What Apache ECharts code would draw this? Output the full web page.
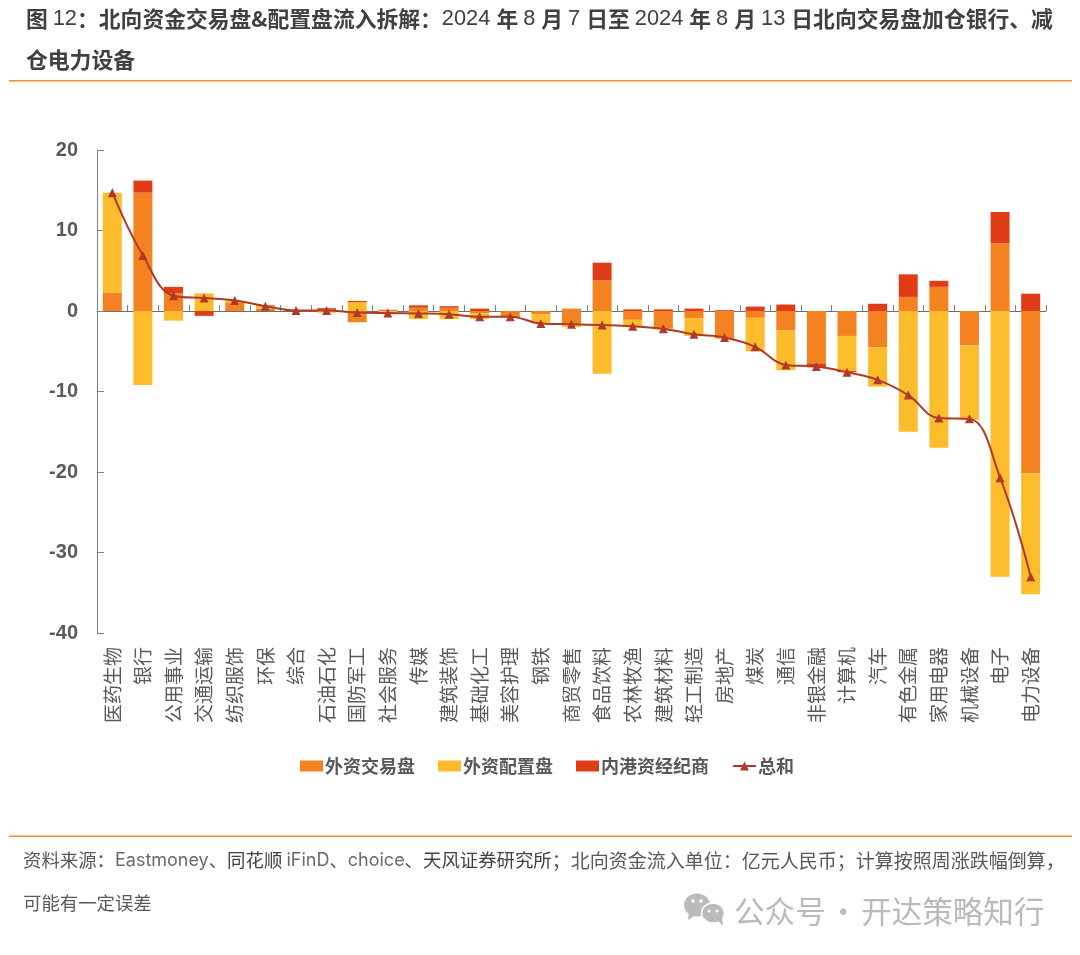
<!DOCTYPE html>
<html>
<head>
<meta charset="utf-8">
<style>
  html, body { margin: 0; padding: 0; background: #fff; }
  #chart { width: 1080px; height: 955px; }
</style>
<script src="https://cdn.jsdelivr.net/npm/echarts@6/dist/echarts.min.js"></script>
</head>
<body>
<div id="chart"></div>
<script>
var categories = ['医药生物', '银行', '公用事业', '交通运输', '纺织服饰', '环保', '综合', '石油石化', '国防军工', '社会服务', '传媒', '建筑装饰', '基础化工', '美容护理', '钢铁', '商贸零售', '食品饮料', '农林牧渔', '建筑材料', '轻工制造', '房地产', '煤炭', '通信', '非银金融', '计算机', '汽车', '有色金属', '家用电器', '机械设备', '电子', '电力设备'];
var tradeValues = [2.3, 14.7, 2.2, 0, 1.0, 0.3, 0.05, 0.15, -1.4, 0.05, 0.4, 0.4, -0.3, -0.75, -0.4, -1.8, 3.8, -1.1, -2.2, -0.9, -3.4, -0.85, -2.4, -6.5, -3.1, -4.5, 1.75, 3.0, -4.25, 8.4, -20.2];
var configValues = [12.4, -9.2, -1.2, 2.2, 0.3, 0.3, 0, -0.2, 1.1, -0.35, -1.0, -1.0, -0.7, 0, -1.15, -0.2, -7.8, -0.9, -0.1, -2.2, -0.1, -4.15, -4.95, 0, -4.35, -4.9, -15.0, -17.0, -9.25, -33.0, -15.0];
var brokerValues = [0, 1.5, 0.8, -0.6, 0, 0.1, 0, 0.2, 0.15, 0.1, 0.3, 0.2, 0.3, 0, 0, 0.3, 2.2, 0.2, 0.2, 0.3, 0.1, 0.55, 0.8, -0.5, -0.15, 0.9, 2.8, 0.75, 0, 3.9, 2.15];
var totalValues = [14.7, 6.9, 1.9, 1.6, 1.3, 0.6, 0.05, 0.05, -0.2, -0.25, -0.3, -0.4, -0.7, -0.7, -1.55, -1.65, -1.75, -1.9, -2.2, -2.9, -3.3, -4.45, -6.7, -6.9, -7.6, -8.55, -10.45, -13.3, -13.4, -20.7, -33.0];

var CJK = '"Noto Sans CJK SC", sans-serif';
var gray = '#595959';
var orange = '#F58220';
var yellow = '#FDBC2C';
var red = '#E03C17';
var lineRed = '#B03A26';
var markGray = '#bababa';

function barSeries(name, values, color) {
    return {
        name: name,
        type: 'bar',
        stack: 'flow',
        barWidth: 19,
        itemStyle: {color: color},
        data: values
    };
}

// in the picture the small positive part of this bar is drawn orange, not red
var brokerData = brokerValues.map(function (v, i) {
    return categories[i] === '商贸零售' ? {value: v, itemStyle: {color: orange}} : v;
});

var option = {
    animation: false,
    backgroundColor: '#fff',
    title: [
        {
            left: 21, top: 3,
            text: '{b|图 }{r|12}{b|：北向资金交易盘&配置盘流入拆解：}{r|2024 }{b|年 }{r|8 }{b|月 }{r|7 }{b|日至 }{r|2024 }{b|年 }{r|8 }{b|月 }{r|13 }{b|日北向交易盘加仓银行、减}',
            textStyle: {
                rich: {
                    b: {fontFamily: CJK, fontWeight: 'bold', fontSize: 21.8, color: '#404040'},
                    r: {fontFamily: '"Liberation Sans", sans-serif', fontWeight: 'normal', fontSize: 21.8, color: '#404040'}
                }
            }
        },
        {
            left: 21, top: 44,
            text: '仓电力设备',
            textStyle: {fontFamily: CJK, fontWeight: 'bold', fontSize: 21.8, color: '#404040'}
        },
        {
            left: 18, top: 846,
            text: '{c|资料来源：}{l|Eastmoney}{c|、}{d|同花顺 }{l|iFinD}{c|、}{l|choice}{c|、}{d|天风证券研究所}{e|；北向资金流入单位：亿元人民币；计算按照周涨跌幅倒算，}',
            textStyle: {
                rich: {
                    c: {fontFamily: CJK, fontWeight: 'normal', fontSize: 18.4, color: gray},
                    d: {fontFamily: CJK, fontWeight: 'normal', fontSize: 18.4, color: '#404040'},
                    e: {fontFamily: CJK, fontWeight: 'normal', fontSize: 19, color: gray},
                    l: {fontFamily: 'Inter, sans-serif', fontWeight: 'normal', fontSize: 18, color: '#6a6a6a'}
                }
            }
        },
        {
            left: 18, top: 889,
            text: '可能有一定误差',
            textStyle: {fontFamily: CJK, fontWeight: 'normal', fontSize: 18.4, color: gray}
        },
        {
            left: 729, top: 891,
            text: '公众号',
            textStyle: {fontFamily: CJK, fontWeight: 'normal', fontSize: 30.6, color: markGray}
        },
        {
            left: 823, top: 891,
            text: '·',
            textStyle: {fontFamily: CJK, fontWeight: 'normal', fontSize: 30.6, color: markGray}
        },
        {
            left: 856, top: 891,
            text: '开达策略知行',
            textStyle: {fontFamily: CJK, fontWeight: 'normal', fontSize: 30.6, color: markGray}
        }
    ],
    grid: {left: 97, right: 34, top: 150, bottom: 322},
    legend: {
        left: 295,
        top: 752,
        itemWidth: 23,
        itemHeight: 11,
        itemGap: 23,
        textStyle: {fontFamily: CJK, fontWeight: 'bold', fontSize: 18, color: gray, padding: [0, 0, 0, -3]},
        data: [
            {name: '外资交易盘', icon: 'rect'},
            {name: '外资配置盘', icon: 'rect'},
            {name: '内港资经纪商', icon: 'rect'},
            {name: '总和'}
        ]
    },
    xAxis: [
        {
            // labels stay under the plot
            type: 'category',
            data: categories,
            position: 'bottom',
            axisLine: {show: false, onZero: false},
            axisTick: {show: false},
            axisLabel: {
                interval: 0,
                rotate: 90,
                margin: 14,
                padding: [10, 0, 0, 0],
                fontFamily: CJK,
                fontSize: 19,
                color: gray
            }
        },
        {
            // zero line with the ticks
            type: 'category',
            data: categories,
            position: 'bottom',
            axisLine: {show: true, onZero: true, lineStyle: {color: '#6e6e6e', width: 1}},
            axisTick: {show: true, inside: true, length: 6, interval: 0, lineStyle: {color: '#808080'}},
            axisLabel: {show: false}
        }
    ],
    yAxis: {
        type: 'value',
        min: -40,
        max: 20,
        interval: 10,
        splitLine: {show: false},
        axisLine: {show: true, lineStyle: {color: '#808080', width: 1}},
        axisTick: {show: true, inside: true, length: 7, lineStyle: {color: '#808080'}},
        axisLabel: {
            margin: 19,
            fontFamily: '"Liberation Sans", sans-serif',
            fontWeight: 'bold',
            fontSize: 20,
            color: gray
        }
    },
    series: [
        barSeries('外资交易盘', tradeValues, orange),
        barSeries('外资配置盘', configValues, yellow),
        barSeries('内港资经纪商', brokerData, red),
        {
            name: '总和',
            type: 'line',
            smooth: 0.4,
            symbol: 'triangle',
            symbolSize: 9,
            lineStyle: {color: lineRed, width: 2},
            itemStyle: {color: lineRed},
            data: totalValues,
            z: 5
        }
    ],
    graphic: [
        {type: 'rect', shape: {x: 9, y: 80, width: 1063, height: 1.5}, style: {fill: '#F58A2C'}},
        {type: 'rect', shape: {x: 9, y: 835.5, width: 1063, height: 1.5}, style: {fill: '#F58A2C'}},
        // wechat mark beside the watermark
        {type: 'ellipse', shape: {cx: 697, cy: 905, rx: 13, ry: 11.5}, style: {fill: markGray}},
        {type: 'polygon', shape: {points: [[689, 912], [688, 920], [696, 915]]}, style: {fill: markGray}},
        {type: 'circle', shape: {cx: 693, cy: 901, r: 1.8}, style: {fill: '#fff'}},
        {type: 'circle', shape: {cx: 701, cy: 901, r: 1.8}, style: {fill: '#fff'}},
        {type: 'ellipse', shape: {cx: 713, cy: 913, rx: 11.5, ry: 10}, style: {fill: markGray, stroke: '#fff', lineWidth: 1.5}},
        {type: 'polygon', shape: {points: [[717, 920], [723, 926], [722, 917]]}, style: {fill: markGray}},
        {type: 'circle', shape: {cx: 709, cy: 911, r: 1.5}, style: {fill: '#fff'}},
        {type: 'circle', shape: {cx: 717, cy: 911, r: 1.5}, style: {fill: '#fff'}}
    ]
};

var chart = echarts.init(document.getElementById('chart'));
chart.setOption(option);
</script>
</body>
</html>
